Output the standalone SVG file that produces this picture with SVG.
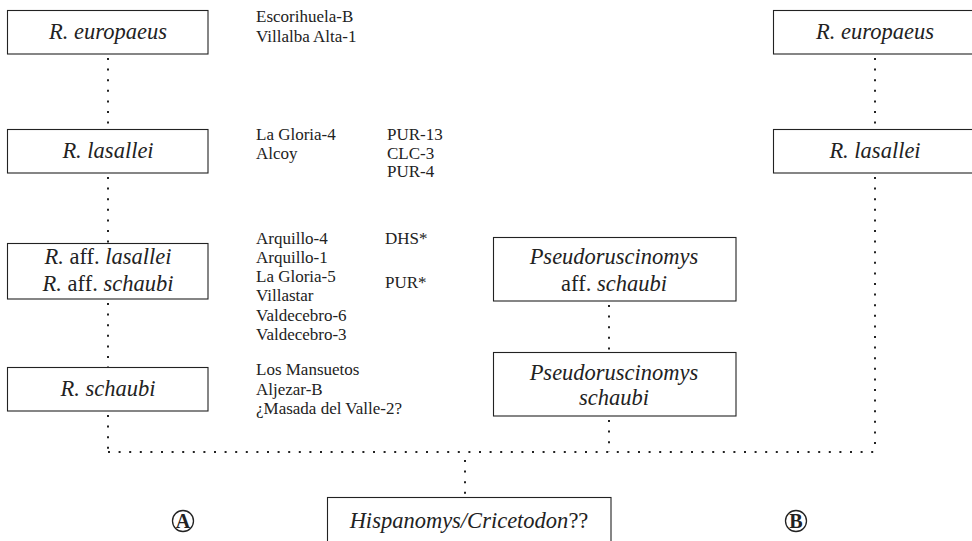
<svg xmlns="http://www.w3.org/2000/svg" width="972" height="541" viewBox="0 0 972 541" font-family="'Liberation Serif', 'Times New Roman', 'DejaVu Serif', serif">
<style>
.box{fill:#fff;stroke:#222;stroke-width:1.1}
.lbl{font-size:22.5px;fill:#222;text-anchor:middle}
.i{font-style:italic}
.site{font-size:17px;fill:#222}
.dot{fill:none;stroke:#222;stroke-width:2;stroke-dasharray:2 8.6}
.circ{fill:none;stroke:#222;stroke-width:1.3}
.cl{font-size:20px;font-weight:bold;fill:#222;text-anchor:middle}
</style>
<rect width="972" height="541" fill="#fff"/>
<g id="connectors">
<line class="dot" x1="108" y1="58" x2="108" y2="129"/>
<line class="dot" x1="108" y1="177" x2="108" y2="243"/>
<line class="dot" x1="108" y1="303" x2="108" y2="367"/>
<line class="dot" x1="108" y1="415" x2="108" y2="452"/>
<line class="dot" x1="875" y1="58" x2="875" y2="129"/>
<line class="dot" x1="875" y1="177" x2="875" y2="452"/>
<line class="dot" x1="609" y1="305" x2="609" y2="352"/>
<line class="dot" x1="609" y1="420" x2="609" y2="452"/>
<line class="dot" x1="108" y1="452" x2="876" y2="452"/>
<line class="dot" x1="465" y1="460" x2="465" y2="497"/>
</g>
<g id="n-europaeus-a"><rect class="box" x="7.5" y="10.5" width="200.5" height="43.5"/><text class="lbl i" x="108" y="39">R. europaeus</text></g>
<g id="n-lasallei-a"><rect class="box" x="7.5" y="129.5" width="200.5" height="43.5"/><text class="lbl i" x="108" y="158">R. lasallei</text></g>
<g id="n-aff-a"><rect class="box" x="7.5" y="243.5" width="200.5" height="55.5"/><text class="lbl" x="108" y="264"><tspan class="i">R.</tspan> aff. <tspan class="i">lasallei</tspan></text><text class="lbl" x="108" y="291"><tspan class="i">R.</tspan> aff. <tspan class="i">schaubi</tspan></text></g>
<g id="n-schaubi-a"><rect class="box" x="7.5" y="367.5" width="200.5" height="43.5"/><text class="lbl i" x="108" y="396">R. schaubi</text></g>
<g id="n-europaeus-b"><rect class="box" x="773.5" y="10.5" width="200" height="43.5"/><text class="lbl i" x="875" y="39">R. europaeus</text></g>
<g id="n-lasallei-b"><rect class="box" x="773.5" y="129.5" width="200" height="43.5"/><text class="lbl i" x="875" y="158">R. lasallei</text></g>
<g id="n-pseudo-aff"><rect class="box" x="493.5" y="237.5" width="242.5" height="63.5"/><text class="lbl i" x="614" y="264">Pseudoruscinomys</text><text class="lbl" x="614" y="291">aff. <tspan class="i">schaubi</tspan></text></g>
<g id="n-pseudo-schaubi"><rect class="box" x="493.5" y="352.5" width="242.5" height="63.5"/><text class="lbl i" x="614" y="380">Pseudoruscinomys</text><text class="lbl i" x="614" y="405">schaubi</text></g>
<g id="n-hispanomys"><rect class="box" x="327.5" y="497.5" width="283.5" height="50"/><text class="lbl" x="469" y="528"><tspan class="i">Hispanomys/Cricetodon</tspan>??</text></g>
<g id="sites">
<text class="site" x="256" y="22">Escorihuela-B</text>
<text class="site" x="256" y="42">Villalba Alta-1</text>
<text class="site" x="256" y="140">La Gloria-4</text>
<text class="site" x="256" y="159">Alcoy</text>
<text class="site" x="387" y="140">PUR-13</text>
<text class="site" x="387" y="159">CLC-3</text>
<text class="site" x="387" y="177">PUR-4</text>
<text class="site" x="256" y="244">Arquillo-4</text>
<text class="site" x="256" y="263">Arquillo-1</text>
<text class="site" x="256" y="282">La Gloria-5</text>
<text class="site" x="256" y="301">Villastar</text>
<text class="site" x="256" y="321">Valdecebro-6</text>
<text class="site" x="256" y="340">Valdecebro-3</text>
<text class="site" x="385" y="244">DHS*</text>
<text class="site" x="385" y="288">PUR*</text>
<text class="site" x="256" y="375">Los Mansuetos</text>
<text class="site" x="256" y="395">Aljezar-B</text>
<text class="site" x="256" y="414">¿Masada del Valle-2?</text>
</g>
<g id="label-a"><circle class="circ" cx="183" cy="521" r="10.5"/><text class="cl" x="183" y="528">A</text></g>
<g id="label-b"><circle class="circ" cx="796" cy="521" r="10.5"/><text class="cl" x="796" y="528">B</text></g>
</svg>
